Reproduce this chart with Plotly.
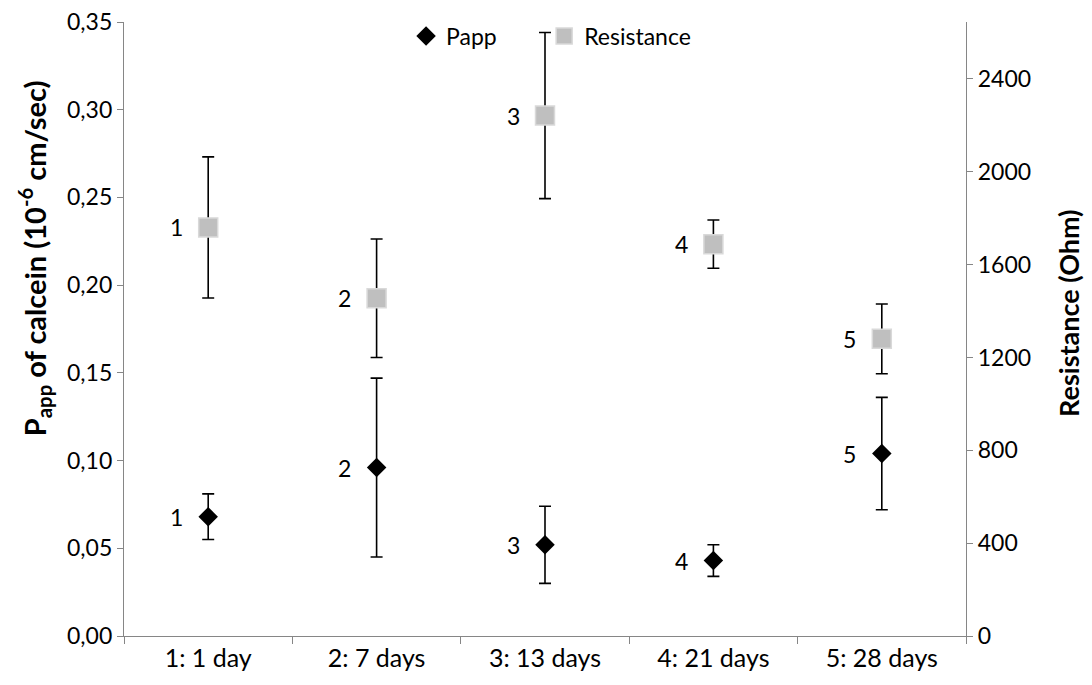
import plotly.graph_objects as go

categories = ["1: 1 day", "2: 7 days", "3: 13 days", "4: 21 days", "5: 28 days"]
point_labels = ["1", "2", "3", "4", "5"]

papp = [0.068, 0.096, 0.052, 0.043, 0.104]
papp_err = [0.013, 0.051, 0.022, 0.009, 0.032]

resistance = [1760, 1455, 2242, 1688, 1280]
resistance_err = [304, 255, 358, 104, 150]

left_tickvals = [0, 0.05, 0.10, 0.15, 0.20, 0.25, 0.30, 0.35]
left_ticktext = ["0,00", "0,05", "0,10", "0,15", "0,20", "0,25", "0,30", "0,35"]
right_tickvals = [0, 400, 800, 1200, 1600, 2000, 2400]
right_ticktext = ["0", "400", "800", "1200", "1600", "2000", "2400"]

left_title = "<b>P<sub>app</sub> of calcein (10<sup>-6</sup> cm/sec)</b>"
right_title = "<b>Resistance (Ohm)</b>"

FONT = "Lato"
AXIS_COLOR = "#868686"

fig = go.Figure()

fig.add_trace(go.Scatter(
    x=categories, y=papp, name="Papp", mode="markers",
    marker=dict(symbol="diamond", size=15, color="black"),
    error_y=dict(type="data", array=papp_err, visible=True,
                 color="black", thickness=1.6, width=6),
    yaxis="y", legend="legend",
))

fig.add_trace(go.Scatter(
    x=categories, y=resistance, name="Resistance", mode="markers",
    marker=dict(symbol="square", size=19, color="#bfbfbf",
                line=dict(color="#d9d9d9", width=1.5)),
    error_y=dict(type="data", array=resistance_err, visible=True,
                 color="black", thickness=1.6, width=6),
    yaxis="y2", legend="legend2",
))

annotations = []
for c, v, t in zip(categories, papp, point_labels):
    annotations.append(dict(x=c, y=v, xref="x", yref="y", text=t,
                            showarrow=False, xshift=-32,
                            font=dict(family=FONT, size=23, color="black")))
for c, v, t in zip(categories, resistance, point_labels):
    annotations.append(dict(x=c, y=v, xref="x", yref="y2", text=t,
                            showarrow=False, xshift=-32,
                            font=dict(family=FONT, size=23, color="black")))

annotations.append(dict(x=-0.106, y=0.615, xref="paper", yref="paper",
                        text=left_title, textangle=-90, showarrow=False,
                        xanchor="center", yanchor="middle",
                        font=dict(family=FONT, size=29, color="black")))
annotations.append(dict(x=1.121, y=0.526, xref="paper", yref="paper",
                        text=right_title, textangle=-90, showarrow=False,
                        xanchor="center", yanchor="middle",
                        font=dict(family=FONT, size=27, color="black")))

legend_common = dict(orientation="h", y=1.012, yanchor="top", xanchor="left",
                     bgcolor="rgba(0,0,0,0)", font=dict(family=FONT, size=23),
                     itemwidth=30)

fig.update_layout(
    width=1084, height=677,
    margin=dict(l=116, r=126, t=14, b=49, autoexpand=False),
    paper_bgcolor="white", plot_bgcolor="white",
    font=dict(family=FONT, size=23, color="black"),
    showlegend=True,
    legend=dict(x=0.335, **legend_common),
    legend2=dict(x=0.499, **legend_common),
    xaxis=dict(
        type="category", showgrid=False, zeroline=False, automargin=False,
        showline=True, linecolor=AXIS_COLOR, linewidth=1.3,
        ticks="outside", tickson="boundaries", ticklen=7, tickcolor=AXIS_COLOR,
        tickfont=dict(family=FONT, size=25),
        range=[-0.5, 4.5],
    ),
    yaxis=dict(
        range=[0, 0.35], tickvals=left_tickvals, ticktext=left_ticktext,
        showgrid=False, zeroline=False, automargin=False,
        showline=True, linecolor=AXIS_COLOR, linewidth=1.3,
        ticks="outside", ticklen=6, tickcolor=AXIS_COLOR,
        tickfont=dict(family=FONT, size=23), ticklabeloverflow="allow",
    ),
    yaxis2=dict(
        range=[0, 2645], tickvals=right_tickvals, ticktext=right_ticktext,
        overlaying="y", side="right", automargin=False,
        showgrid=False, zeroline=False,
        showline=True, linecolor=AXIS_COLOR, linewidth=1.3,
        ticks="outside", ticklen=6, tickcolor=AXIS_COLOR,
        tickfont=dict(family=FONT, size=23), ticklabeloverflow="allow",
    ),
    annotations=annotations,
)

fig.write_html("out.html")
